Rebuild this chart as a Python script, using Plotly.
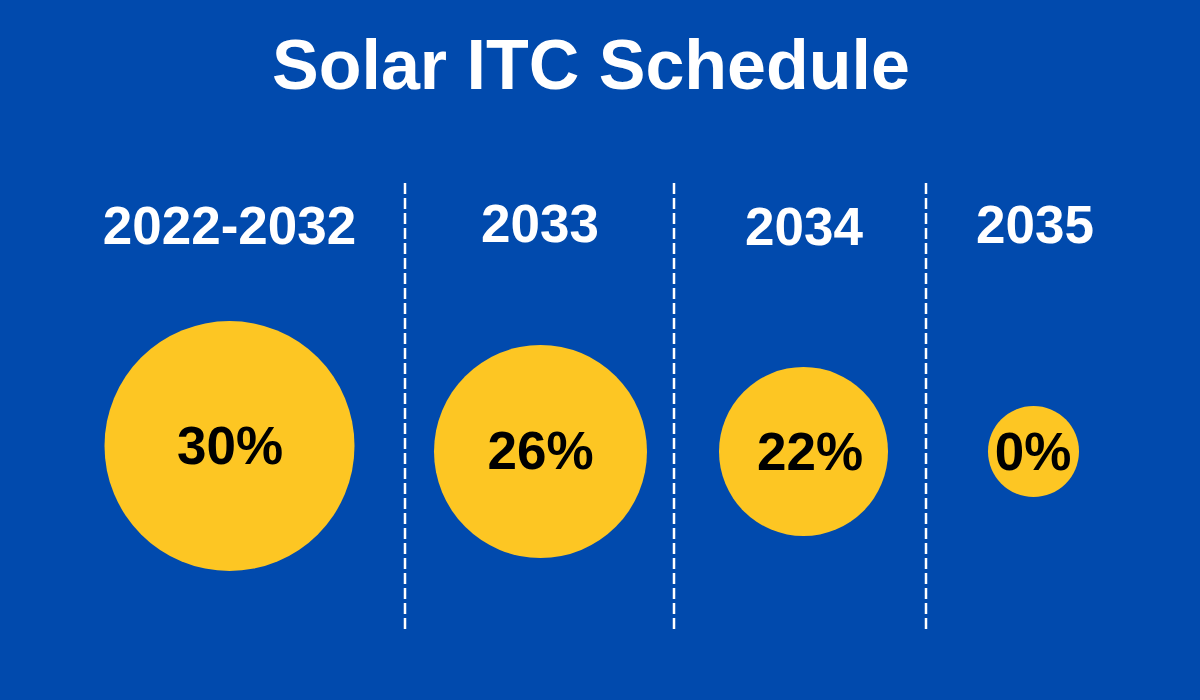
import plotly.graph_objects as go

# ---- data ----
periods = ["2022-2032", "2033", "2034", "2035"]
credit_pct = [30, 26, 22, 0]
pct_labels = [f"{v}%" for v in credit_pct]
title_text = "Solar ITC Schedule"

# ---- layout constants (pixel space) ----
W, H = 1200, 700
col_centers = [229.5, 540.5, 803.5, 1033.5]
bubble_diam = [250, 213, 169, 91]
bubble_y = [446, 451.5, 451.5, 451.5]
pct_text_x = [230, 540.5, 810, 1033]
pct_text_y = [451, 455.5, 456.5, 456.5]
label_x = [229.5, 540, 804, 1035]
label_y = [231, 228.5, 231.5, 229.5]
separators_x = [405, 674, 926]
sep_top, sep_bottom = 183, 630

BLUE = "#014AAD"
YELLOW = "#FDC623"
FONT = "Liberation Sans, Arial, sans-serif"

fig = go.Figure()

fig.add_trace(go.Scatter(
    x=col_centers, y=bubble_y, mode="markers",
    marker=dict(size=bubble_diam, color=YELLOW, line=dict(width=0), opacity=1),
    hoverinfo="skip", showlegend=False,
))

fig.add_trace(go.Scatter(
    x=pct_text_x, y=pct_text_y, mode="text",
    text=pct_labels, textposition="middle center",
    textfont=dict(family=FONT, size=53, color="#000000", weight="bold"),
    hoverinfo="skip", showlegend=False,
))

fig.add_trace(go.Scatter(
    x=label_x, y=label_y, mode="text",
    text=periods, textposition="middle center",
    textfont=dict(family=FONT, size=53, color="#FFFFFF", weight="bold"),
    hoverinfo="skip", showlegend=False,
))

for sx in separators_x:
    fig.add_shape(type="line", x0=sx, x1=sx, y0=sep_top, y1=sep_bottom,
                  xref="x", yref="y",
                  line=dict(color="#FFFFFF", width=2.5, dash="11px,4px"))

fig.add_annotation(
    x=591, y=65, xref="x", yref="y", text=title_text, showarrow=False,
    font=dict(family=FONT, size=70, color="#FFFFFF", weight="bold"),
    xanchor="center", yanchor="middle",
)

fig.update_layout(
    width=W, height=H,
    margin=dict(l=0, r=0, t=0, b=0),
    paper_bgcolor=BLUE, plot_bgcolor=BLUE,
    xaxis=dict(range=[0, W], visible=False, fixedrange=True),
    yaxis=dict(range=[H, 0], visible=False, fixedrange=True),
)

fig.write_html("out.html")
